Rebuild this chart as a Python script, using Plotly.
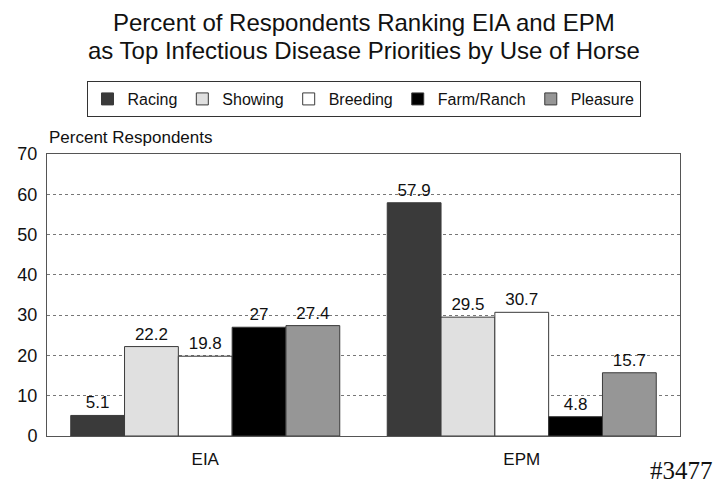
import plotly.graph_objects as go

categories = ["EIA", "EPM"]
series_names = ["Racing", "Showing", "Breeding", "Farm/Ranch", "Pleasure"]
racing = [5.1, 57.9]
showing = [22.2, 29.5]
breeding = [19.8, 30.7]
farm_ranch = [27, 4.8]
pleasure = [27.4, 15.7]
y_ticks = [0, 10, 20, 30, 40, 50, 60, 70]

values = [racing, showing, breeding, farm_ranch, pleasure]
colors = ["#3a3a3a", "#e0e0e0", "#ffffff", "#000000", "#969696"]
FONT = "Liberation Sans, Arial, sans-serif"
INK = "#111111"

fig = go.Figure()
for name, vals, col in zip(series_names, values, colors):
    fig.add_trace(go.Bar(
        x=categories, y=vals, name=name,
        marker=dict(color=col, line=dict(color="#3a3a3a", width=1)),
        text=[f"{v:g}" for v in vals], textposition="outside",
        textfont=dict(size=17, color=INK, family=FONT),
        cliponaxis=False,
    ))

# the page body has an 8px default margin, so the figure is 8px smaller
fig.update_layout(
    width=716, height=477,
    margin=dict(l=39, r=44, t=146, b=49, autoexpand=False),
    paper_bgcolor="white", plot_bgcolor="white",
    barmode="group", bargap=0.15, bargroupgap=0,
    font=dict(family=FONT, color=INK),
    showlegend=True,
    legend=dict(
        orientation="h", x=0.5, xanchor="center", y=1.195, yanchor="middle",
        bordercolor="#333333", borderwidth=1,
        font=dict(size=16, family=FONT, color=INK),
        itemwidth=30, tracegroupgap=0, traceorder="normal",
    ),
    xaxis=dict(
        showline=True, linecolor="#555555", linewidth=1, mirror=True,
        ticks="", ticklabelstandoff=8,
        tickfont=dict(size=17, family=FONT, color=INK),
    ),
    yaxis=dict(
        range=[0, 70], tickvals=y_ticks, showline=True, linecolor="#555555",
        linewidth=1, mirror=True, showgrid=True, gridcolor="#777777",
        griddash="dot", gridwidth=1, zeroline=False, ticks="",
        ticklabelstandoff=5,
        tickfont=dict(size=18, family=FONT, color=INK),
    ),
    annotations=[
        dict(text="Percent of Respondents Ranking EIA and EPM", xref="paper", yref="paper",
             x=0.5, y=1, xanchor="center", yanchor="middle", yshift=132, showarrow=False,
             font=dict(size=24, family=FONT, color=INK)),
        dict(text="as Top Infectious Disease Priorities by Use of Horse", xref="paper", yref="paper",
             x=0.5, y=1, xanchor="center", yanchor="middle", yshift=104, showarrow=False,
             font=dict(size=24, family=FONT, color=INK)),
        dict(text="Percent Respondents", xref="paper", yref="paper", x=0, y=1.0,
             xanchor="left", yanchor="middle", yshift=17, showarrow=False,
             font=dict(size=17, family=FONT, color=INK)),
        dict(text="#3477", xref="paper", yref="paper", x=1.0, y=0, xanchor="right",
             yanchor="middle", xshift=35, yshift=-34, showarrow=False,
             font=dict(size=25, family="Liberation Serif, Times New Roman, serif", color=INK)),
    ],
)

fig.write_html("out.html")
